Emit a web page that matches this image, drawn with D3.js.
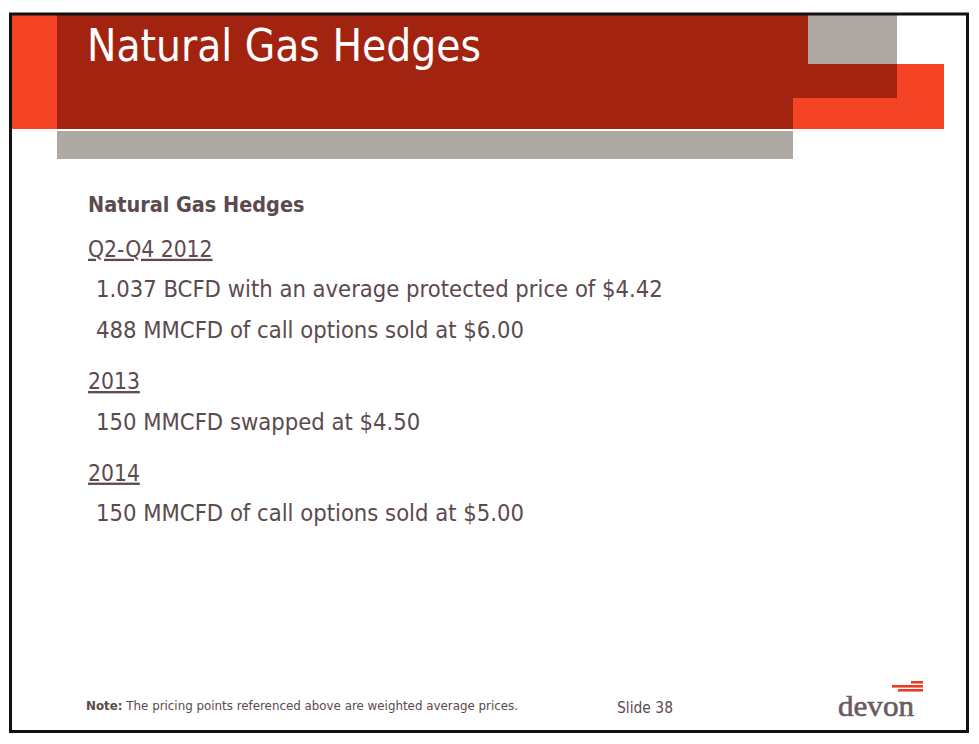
<!DOCTYPE html>
<html>
<head>
<meta charset="utf-8">
<script src="https://cdn.jsdelivr.net/npm/d3@7"></script>
<style>
  body { margin: 0; background: #fff; }
  svg { display: block; }
  text { font-family: "DejaVu Sans Condensed", "Liberation Sans Narrow", sans-serif; }
</style>
</head>
<body>
<div id="slide"></div>
<script>
// slide content
const title = "Natural Gas Hedges";
const heading = "Natural Gas Hedges";
const periods = ["Q2-Q4 2012", "2013", "2014"];
const hedges = [
  ["1.037 BCFD with an average protected price of $4.42", "488 MMCFD of call options sold at $6.00"],
  ["150 MMCFD swapped at $4.50"],
  ["150 MMCFD of call options sold at $5.00"],
];
const noteLabel = "Note:";
const noteText = " The pricing points referenced above are weighted average prices.";
const slideLabel = "Slide 38";

const width = 979;
const height = 744;
const textColor = "#5b4a4e";

const svg = d3
  .select("#slide")
  .append("svg")
  .attr("width", width)
  .attr("height", height);

svg.append("rect").attr("width", width).attr("height", height).attr("fill", "#fff");

// header blocks
const red = "#a32311", orange = "#f44325", grey = "#aea9a3";
const blocks = [
  { x0: 57, x1: 897, y0: 15, y1: 129, c: red },
  { x0: 808, x1: 897, y0: 15, y1: 64, c: grey },
  { x0: 897, x1: 944, y0: 64, y1: 129, c: orange },
  { x0: 793, x1: 944, y0: 98, y1: 129, c: orange },
  { x0: 12, x1: 57, y0: 15, y1: 129, c: orange },
  { x0: 57, x1: 793, y0: 131, y1: 159, c: grey },
];
svg
  .append("g")
  .selectAll("rect")
  .data(blocks)
  .join("rect")
  .attr("x", (d) => d.x0)
  .attr("y", (d) => d.y0)
  .attr("width", (d) => d.x1 - d.x0)
  .attr("height", (d) => d.y1 - d.y0)
  .attr("fill", (d) => d.c);

svg
  .append("text")
  .attr("x", 87)
  .attr("y", 61)
  .attr("fill", "#fff")
  .attr("font-size", 44)
  .attr("textLength", 394)
  .attr("lengthAdjust", "spacingAndGlyphs")
  .text(title);

// body rows: heading, then each period with its hedges
const rows = [{ text: heading, kind: "heading", gap: 0 }];
periods.forEach((p, i) => {
  rows.push({ text: p, kind: "period", gap: i === 0 ? 1.1 : 1.25 });
  hedges[i].forEach((h) => rows.push({ text: h, kind: "item", gap: 1 }));
});
let acc = 0;
rows.forEach((r) => { acc += r.gap; r.slot = acc; });

const y = d3.scaleLinear().domain([0, 1]).range([212, 252.7]);

// stretch factor per row kind, to match the reference face's advance widths
const stretch = { heading: 0.975, period: 0.985, item: 1.025 };
const body = svg.append("g").attr("fill", textColor);
body
  .selectAll("text")
  .data(rows)
  .join("text")
  .attr("x", (d) => (d.kind === "item" ? 96 : 88))
  .attr("y", (d) => y(d.slot))
  .attr("font-size", (d) => (d.kind === "heading" ? 22 : 23))
  .attr("font-weight", (d) => (d.kind === "heading" ? "bold" : null))
  .style("text-decoration", (d) => (d.kind === "period" ? "underline" : null))
  .text((d) => d.text)
  .each(function (d) {
    const w = this.getComputedTextLength();
    d3.select(this)
      .attr("textLength", w * stretch[d.kind])
      .attr("lengthAdjust", "spacingAndGlyphs");
  });

// footer
const note = svg
  .append("text")
  .attr("x", 86)
  .attr("y", 710)
  .attr("font-size", 12)
  .attr("fill", textColor);
note.append("tspan").attr("font-weight", "bold").text(noteLabel);
note.append("tspan").text(noteText);
note.attr("textLength", 432).attr("lengthAdjust", "spacingAndGlyphs");

svg
  .append("text")
  .attr("x", 617)
  .attr("y", 713)
  .attr("font-size", 15)
  .attr("fill", textColor)
  .attr("textLength", 56)
  .attr("lengthAdjust", "spacingAndGlyphs")
  .text(slideLabel);

// devon logo
const logo = svg.append("g");
const stripes = [
  { x0: 911, x1: 923, y: 681 },
  { x0: 892, x1: 923, y: 685 },
  { x0: 898, x1: 923, y: 689 },
];
logo
  .selectAll("rect")
  .data(stripes)
  .join("rect")
  .attr("x", (d) => d.x0)
  .attr("y", (d) => d.y)
  .attr("width", (d) => d.x1 - d.x0)
  .attr("height", 2.6)
  .attr("fill", "#ee3a24");
logo
  .append("text")
  .attr("x", 838)
  .attr("y", 716)
  .style("font-family", "'Liberation Serif', 'DejaVu Serif', serif")
  .attr("font-size", 29)
  .attr("fill", "#6b5b5f")
  .attr("stroke", "#6b5b5f")
  .attr("stroke-width", 0.6)
  .attr("textLength", 76)
  .attr("lengthAdjust", "spacingAndGlyphs")
  .text("devon");

// slide frame
svg
  .append("rect")
  .attr("x", 10.5)
  .attr("y", 14)
  .attr("width", 957)
  .attr("height", 717.5)
  .attr("fill", "none")
  .attr("stroke", "#111")
  .attr("stroke-width", 3);
</script>
</body>
</html>
